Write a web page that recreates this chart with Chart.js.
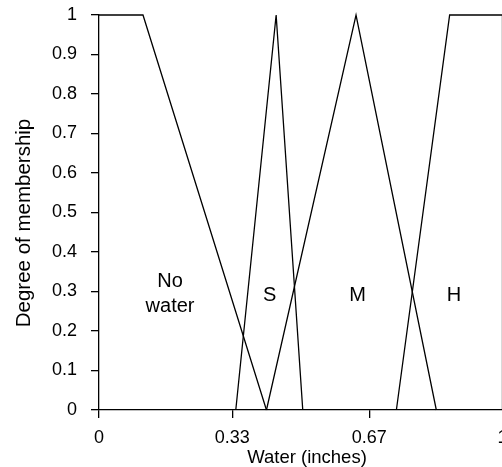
<!DOCTYPE html>
<html>
<head>
<meta charset="utf-8">
<script src="https://cdn.jsdelivr.net/npm/chart.js@4.4.1/dist/chart.umd.min.js"></script>
<style>
  html, body { margin: 0; padding: 0; background: #fff; overflow: hidden; }
  #wrap { width: 510px; height: 467px; }
</style>
</head>
<body>
<div id="wrap"><canvas id="chart" width="510" height="467"></canvas></div>
<script>
// membership functions (x in inches, y = degree)
const noWaterX = [0, 0.109, 0.415];
const noWaterY = [1, 1, 0];
const smallX = [0.339, 0.439, 0.505];
const smallY = [0, 1, 0];
const mediumX = [0.415, 0.637, 0.836];
const mediumY = [0, 1, 0];
const highX = [0.737, 0.869, 1, 1];
const highY = [0, 1, 1, 0];

const xTicks = [0, 0.33, 0.67, 1];
const xTickLabels = ["0", "0.33", "0.67", "1"];

// region labels, placed in data coordinates
const regionLabels = [
  { text: ["No", "water"], x: 0.176, y: 0.3 },
  { text: ["S"], x: 0.423, y: 0.3 },
  { text: ["M"], x: 0.641, y: 0.3 },
  { text: ["H"], x: 0.88, y: 0.3 },
];

const X_TITLE = "Water (inches)";
const Y_TITLE = "Degree of membership";

const FONT = "'Liberation Sans', Arial, sans-serif";
Chart.defaults.font.family = FONT;
Chart.defaults.color = "#000";

function toPoints(xs, ys) {
  return xs.map((x, i) => ({ x: x, y: ys[i] }));
}

function series(label, xs, ys) {
  return {
    label: label,
    data: toPoints(xs, ys),
    borderColor: "#000",
    borderWidth: 1.3,
    pointRadius: 0,
    fill: false,
    tension: 0,
    clip: 4,
  };
}

// region labels plus the two axis titles (the picture has them a bit off-centre)
const labelPlugin = {
  id: "regionLabels",
  afterDatasetsDraw(chart) {
    const ctx = chart.ctx;
    const xs = chart.scales.x;
    const ys = chart.scales.y;
    ctx.save();
    ctx.font = "20px " + FONT;
    ctx.fillStyle = "#000";
    ctx.textAlign = "center";
    ctx.textBaseline = "alphabetic";
    regionLabels.forEach((l) => {
      const px = xs.getPixelForValue(l.x);
      const py = ys.getPixelForValue(l.y);
      if (l.text.length === 1) {
        ctx.fillText(l.text[0], px, py + 9);
      } else {
        ctx.fillText(l.text[0], px, py - 4.5);
        ctx.fillText(l.text[1], px, py + 20.5);
      }
    });

    ctx.textBaseline = "middle";
    ctx.font = "18.5px " + FONT;
    ctx.fillText(X_TITLE, 307, 458);

    ctx.translate(24, 223);
    ctx.rotate(-Math.PI / 2);
    ctx.font = "20.5px " + FONT;
    ctx.fillText(Y_TITLE, 0, 0);
    ctx.restore();
  },
};

new Chart(document.getElementById("chart"), {
  type: "line",
  data: {
    datasets: [
      series("No water", noWaterX, noWaterY),
      series("S", smallX, smallY),
      series("M", mediumX, mediumY),
      series("H", highX, highY),
    ],
  },
  options: {
    responsive: false,
    animation: false,
    layout: { padding: { left: 0, right: 7.5, top: 15, bottom: 0 } },
    plugins: { legend: { display: false }, tooltip: { enabled: false } },
    scales: {
      x: {
        type: "linear",
        min: 0,
        max: 1,
        afterFit: (s) => {
          s.height = 57;
          s.paddingLeft = 0;
          s.paddingRight = 0;
        },
        afterBuildTicks: (s) => { s.ticks = xTicks.map((v) => ({ value: v })); },
        ticks: {
          font: { size: 18 },
          padding: 9,
          maxRotation: 0,
          autoSkip: false,
          callback: (v) => xTickLabels[xTicks.indexOf(v)] ?? "",
        },
        grid: { drawOnChartArea: false, drawTicks: true, tickLength: 8, color: "#000", lineWidth: 1.3 },
        border: { display: true, color: "#000", width: 1.3 },
      },
      y: {
        type: "linear",
        min: 0,
        max: 1,
        afterFit: (s) => {
          s.width = 99;
          s.paddingTop = 0;
          s.paddingBottom = 0;
        },
        ticks: {
          stepSize: 0.1,
          font: { size: 18 },
          padding: 14,
          callback: (v) => String(Math.round(v * 10) / 10),
        },
        grid: { drawOnChartArea: false, drawTicks: true, tickLength: 8, color: "#000", lineWidth: 1.3 },
        border: { display: true, color: "#000", width: 1.3 },
      },
    },
  },
  plugins: [labelPlugin],
});
</script>
</body>
</html>
